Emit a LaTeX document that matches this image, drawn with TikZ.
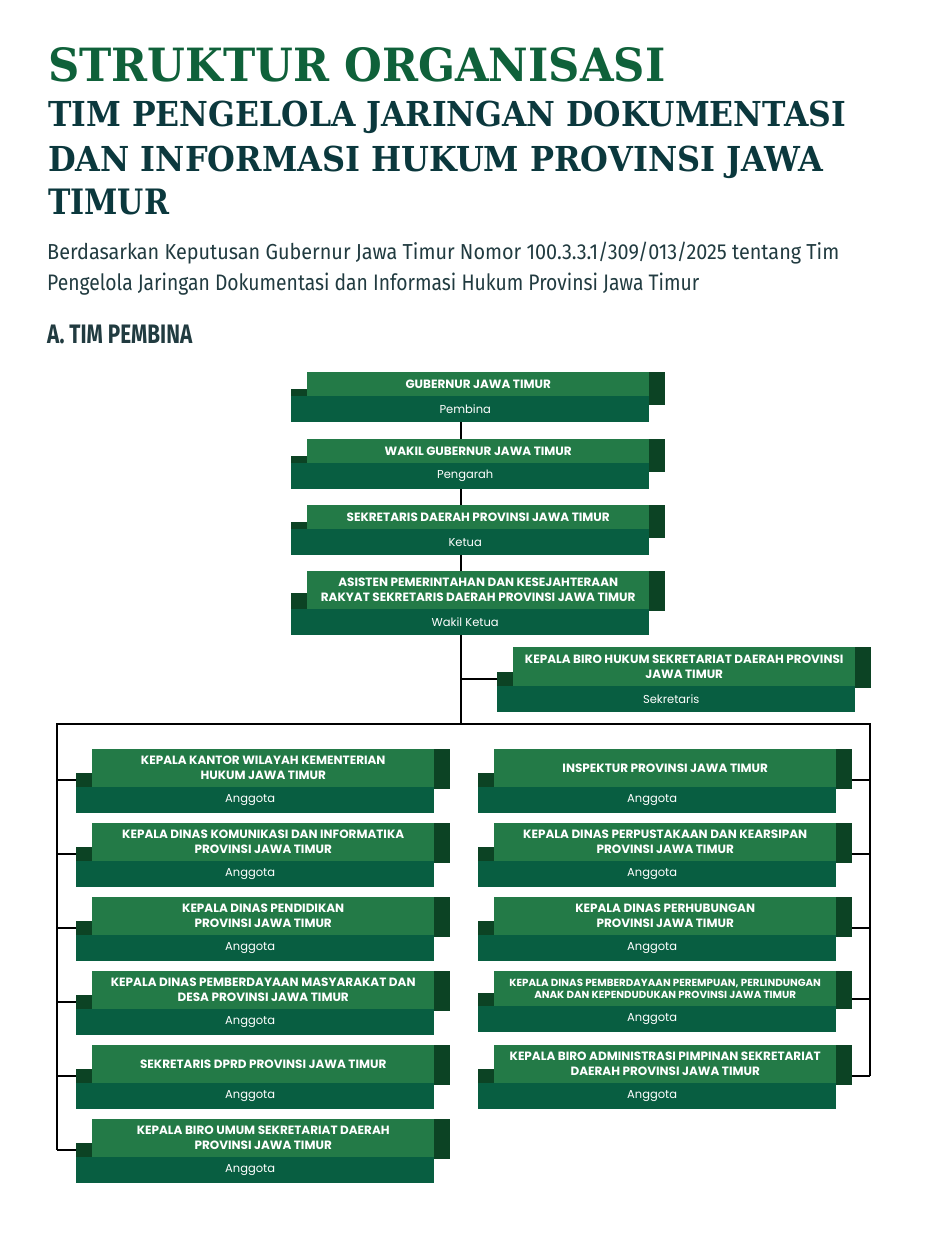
\documentclass[tikz,border=0pt]{standalone}
\usepackage{fontspec}
\usetikzlibrary{backgrounds}
\newfontfamily\boxfont{Poppins}
\newfontfamily\titlefont{DejaVu Serif}
\newfontfamily\subfont{Fira Sans}
\definecolor{topg}{HTML}{237A47}
\definecolor{botg}{HTML}{085E41}
\definecolor{darkg}{HTML}{0C4324}
\definecolor{titleg}{HTML}{0F613A}
\definecolor{titled}{HTML}{0B383D}
\definecolor{subc}{HTML}{213B40}
\tikzset{
  topbar/.style={fill=topg, inner sep=0pt, minimum width=342pt, text=white,
    font={\boxfont\bfseries\fontsize{12}{15}\selectfont}, align=center},
  botbar/.style={fill=botg, inner sep=0pt, minimum width=358pt, minimum height=26pt, text=white,
    font={\boxfont\fontsize{11.5}{13}\selectfont}},
  darkblk/.style={fill=darkg, inner sep=0pt, minimum width=16pt},
  conn/.style={line width=2pt, black},
  small/.style={font={\boxfont\bfseries\fontsize{10.3}{12.5}\selectfont}},
  normal/.style={}
}
% #1 name, #2 left x, #3 top y, #4 top bar height, #5 right dark height, #6 left dark height, #7 title, #8 role, #9 extra style
\newcommand\orgbox[9]{%
  \node[darkblk, minimum height=#5pt, anchor=north west] (#1-rd) at (#2+358,#3) {};
  \node[darkblk, minimum height=#6pt, anchor=south west] (#1-ld) at (#2,#3+#4) {};
  \node[topbar, minimum height=#4pt, anchor=north west, #9] (#1-t) at (#2+16,#3) {#7};
  \node[botbar, anchor=north west] (#1-b) at (#2,#3+#4) {\hspace*{-10pt}#8};
}
\begin{document}
\begin{tikzpicture}[x=1pt,y=-1pt]
\useasboundingbox (0,0) rectangle (934,1246);
% titles
\node[anchor=base west, inner sep=0pt, text=titleg] (t1) at (48,82)
  {\resizebox{617pt}{34pt}{\titlefont\bfseries STRUKTUR ORGANISASI}};
\node[anchor=base west, inner sep=0pt, text=titled] (t2) at (48,127)
  {\resizebox{798pt}{25.5pt}{\titlefont\bfseries TIM PENGELOLA JARINGAN DOKUMENTASI}};
\node[anchor=base west, inner sep=0pt, text=titled] (t3) at (48,171.5)
  {\resizebox{775pt}{25.5pt}{\titlefont\bfseries DAN INFORMASI HUKUM PROVINSI JAWA}};
\node[anchor=base west, inner sep=0pt, text=titled] (t4) at (48,214.5)
  {\resizebox{121pt}{25.5pt}{\titlefont\bfseries TIMUR}};
\node[anchor=base west, inner sep=0pt, text=subc] (s1) at (47,260)
  {\resizebox{792pt}{17.5pt}{\subfont Berdasarkan Keputusan Gubernur Jawa Timur Nomor 100.3.3.1/309/013/2025 tentang Tim}};
\node[anchor=base west, inner sep=0pt, text=subc] (s2) at (47,290)
  {\resizebox{652pt}{17.5pt}{\subfont Pengelola Jaringan Dokumentasi dan Informasi Hukum Provinsi Jawa Timur}};
\node[anchor=base west, inner sep=0pt, text=subc] (sec) at (47,343)
  {\resizebox{145pt}{18.5pt}{\subfont\bfseries A. TIM PEMBINA}};
% center column
\orgbox{gub}{291}{372}{24}{33}{7}{GUBERNUR JAWA TIMUR}{Pembina}{normal}
\orgbox{wak}{291}{439}{24}{33}{7}{WAKIL GUBERNUR JAWA TIMUR}{Pengarah}{normal}
\orgbox{skd}{291}{505}{24}{33}{7}{SEKRETARIS DAERAH PROVINSI JAWA TIMUR}{Ketua}{normal}
\orgbox{ast}{291}{571}{38}{40}{16}{ASISTEN PEMERINTAHAN DAN KESEJAHTERAAN\\RAKYAT SEKRETARIS DAERAH PROVINSI JAWA TIMUR}{Wakil Ketua}{normal}
\orgbox{sek}{497}{647}{39}{41}{14}{KEPALA BIRO HUKUM SEKRETARIAT DAERAH PROVINSI\\JAWA TIMUR}{Sekretaris}{normal}
% left column
\orgbox{l1}{76}{749}{38}{40}{14}{KEPALA KANTOR WILAYAH KEMENTERIAN\\HUKUM JAWA TIMUR}{Anggota}{normal}
\orgbox{l2}{76}{823}{38}{40}{14}{KEPALA DINAS KOMUNIKASI DAN INFORMATIKA\\PROVINSI JAWA TIMUR}{Anggota}{normal}
\orgbox{l3}{76}{897}{38}{40}{14}{KEPALA DINAS PENDIDIKAN\\PROVINSI JAWA TIMUR}{Anggota}{normal}
\orgbox{l4}{76}{971}{38}{40}{14}{KEPALA DINAS PEMBERDAYAAN MASYARAKAT DAN\\DESA PROVINSI JAWA TIMUR}{Anggota}{normal}
\orgbox{l5}{76}{1045}{38}{40}{14}{SEKRETARIS DPRD PROVINSI JAWA TIMUR}{Anggota}{normal}
\orgbox{l6}{76}{1119}{38}{40}{14}{KEPALA BIRO UMUM SEKRETARIAT DAERAH\\PROVINSI JAWA TIMUR}{Anggota}{normal}
% right column
\orgbox{r1}{478}{749}{38}{40}{14}{INSPEKTUR PROVINSI JAWA TIMUR}{Anggota}{normal}
\orgbox{r2}{478}{823}{38}{40}{14}{KEPALA DINAS PERPUSTAKAAN DAN KEARSIPAN\\PROVINSI JAWA TIMUR}{Anggota}{normal}
\orgbox{r3}{478}{897}{38}{40}{14}{KEPALA DINAS PERHUBUNGAN\\PROVINSI JAWA TIMUR}{Anggota}{normal}
\orgbox{r4}{478}{971}{35}{38}{13}{KEPALA DINAS PEMBERDAYAAN PEREMPUAN, PERLINDUNGAN\\ANAK DAN KEPENDUDUKAN PROVINSI JAWA TIMUR}{Anggota}{small}
\orgbox{r5}{478}{1045}{38}{40}{14}{KEPALA BIRO ADMINISTRASI PIMPINAN SEKRETARIAT\\DAERAH PROVINSI JAWA TIMUR}{Anggota}{normal}
% connectors
\coordinate (hub) at (461,724);
\coordinate (busL) at (57,724);
\coordinate (busR) at (870,724);
\begin{scope}[on background layer]
  \fill[white] (0,0) rectangle (934,1246);
  \draw[conn] (gub-b.south -| hub) -- (hub);
  \draw[conn] (sek-ld.west -| hub) -- (sek-ld.west);
  \draw[conn] (l6-ld.west -| busL) -- (busL) -- (busR) -- (r5-ld.west -| busR);
  \foreach \i in {1,...,5} {\draw[conn] (l\i-ld.west -| busL) -- (l\i-ld.west);}
  \draw[conn] (l6-ld.west -| busL) -- (l6-ld.west);
  \foreach \i in {1,...,5} {\draw[conn] (r\i-rd.east |- r\i-ld.west) -- (r\i-ld.west -| busR);}
\end{scope}
\end{tikzpicture}
\end{document}
